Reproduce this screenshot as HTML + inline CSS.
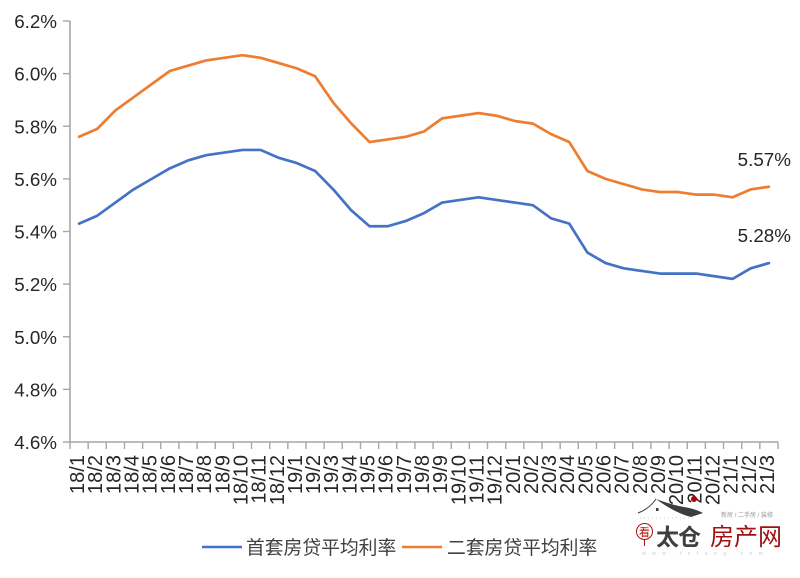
<!DOCTYPE html>
<html lang="zh">
<head>
<meta charset="utf-8">
<title>房贷平均利率</title>
<style>
html,body{margin:0;padding:0;background:#fff;}
body{width:800px;height:578px;overflow:hidden;}
svg{display:block;}
text{font-family:"Liberation Sans","Noto Sans CJK SC",sans-serif;}
</style>
</head>
<body>
<svg id="chart" xmlns="http://www.w3.org/2000/svg" width="800" height="578" viewBox="0 0 800 578">
  <g id="y-axis"></g>
  <g id="x-axis"></g>
  <g id="series"></g>
  <g id="end-labels"></g>
  <g id="legend">
    <g>
      <line x1="202" y1="547" x2="242" y2="547" stroke="#4472c4" stroke-width="2.6"/>
      <text x="246" y="554" font-size="18.8" fill="#404040">首套房贷平均利率</text>
    </g>
    <g>
      <line x1="402" y1="547" x2="442" y2="547" stroke="#ed7d31" stroke-width="2.6"/>
      <text x="447" y="554" font-size="18.8" fill="#404040">二套房贷平均利率</text>
    </g>
  </g>
  <g id="watermark">
    <path d="M638 513 Q649 509 656 499" fill="none" stroke="#3d3d3d" stroke-width="1"/>
    <path d="M656 499 Q672 505 684 507 Q696 509 703 513 Q697 515 691 517 Q675 513 656 499Z" fill="#3d3d3d"/>
    <circle cx="694" cy="499" r="3" fill="#b00000"/>
    <rect x="656" y="508" width="2.500" height="3" fill="#3d3d3d"/>
    <line x1="640" y1="518" x2="694" y2="518" stroke="#ccc" stroke-width="1" stroke-dasharray="1 3"/>
    <text x="721" y="517" font-size="6" fill="#999" textLength="52">新房 / 二手房 / 装修</text>
    <circle cx="644.500" cy="531.500" r="8" fill="none" stroke="#a81010" stroke-width="1"/>
    <text x="644.500" y="536" font-size="11" fill="#a81010" text-anchor="middle">看</text>
    <line x1="644.500" y1="539" x2="644.500" y2="546" stroke="#a81010" stroke-width="1"/>
    <text x="656" y="545" font-size="23" font-weight="700" fill="#3f3f3f" textLength="45">太仓</text>
    <text x="710" y="545" font-size="24" fill="#a01010" textLength="72">房产网</text>
    <text x="642" y="555" font-size="5" fill="#ccc" textLength="121">www.tcfang.com</text>
  </g>
</svg>
<script>
var categories = ["18/1","18/2","18/3","18/4","18/5","18/6","18/7","18/8","18/9","18/10","18/11","18/12","19/1","19/2","19/3","19/4","19/5","19/6","19/7","19/8","19/9","19/10","19/11","19/12","20/1","20/2","20/3","20/4","20/5","20/6","20/7","20/8","20/9","20/10","20/11","20/12","21/1","21/2","21/3"];
var firstHomeRates = [5.43,5.46,5.51,5.56,5.60,5.64,5.67,5.69,5.70,5.71,5.71,5.68,5.66,5.63,5.56,5.48,5.42,5.42,5.44,5.47,5.51,5.52,5.53,5.52,5.51,5.50,5.45,5.43,5.32,5.28,5.26,5.25,5.24,5.24,5.24,5.23,5.22,5.26,5.28];
var secondHomeRates = [5.76,5.79,5.86,5.91,5.96,6.01,6.03,6.05,6.06,6.07,6.06,6.04,6.02,5.99,5.89,5.81,5.74,5.75,5.76,5.78,5.83,5.84,5.85,5.84,5.82,5.81,5.77,5.74,5.63,5.60,5.58,5.56,5.55,5.55,5.54,5.54,5.53,5.56,5.57];
var yTicks = [4.6,4.8,5.0,5.2,5.4,5.6,5.8,6.0,6.2];

var NS = 'http://www.w3.org/2000/svg';
var plotLeft = 70, plotRight = 778, plotTop = 21, plotBottom = 442;
var yMin = yTicks[0], yMax = yTicks[yTicks.length - 1];
var axisColor = '#a6a6a6';

function xBand(i) { return plotLeft + (plotRight - plotLeft) * i / categories.length; }
function xPos(i) { return xBand(i + 0.5); }
function yPos(v) { return plotBottom - (v - yMin) / (yMax - yMin) * (plotBottom - plotTop); }

function make(tag, attrs, parent) {
  var el = document.createElementNS(NS, tag);
  for (var k in attrs) { el.setAttribute(k, attrs[k]); }
  parent.appendChild(el);
  return el;
}

var yAxis = document.getElementById('y-axis');
var xAxis = document.getElementById('x-axis');
var seriesGroup = document.getElementById('series');
var endLabels = document.getElementById('end-labels');

var yLine = make('line', {x1: plotLeft, y1: plotTop, x2: plotLeft, y2: plotBottom, stroke: axisColor, 'stroke-width': 1.6}, yAxis);



yTicks.forEach(function (t) {
  var y = yPos(t);
  var tick = make('line', {x1: plotLeft - 7, y1: y, x2: plotLeft, y2: y, stroke: axisColor, 'stroke-width': 1.4}, yAxis);
  
  
  var label = make('text', {x: 57, y: y + 7, 'font-size': 18.8, fill: '#262626', 'text-anchor': 'end'}, yAxis);
  
  
  label.textContent = t.toFixed(1) + '%';
});

var xLine = make('line', {x1: plotLeft, y1: plotBottom, x2: plotRight, y2: plotBottom, stroke: axisColor, 'stroke-width': 1.6}, xAxis);



for (var b = 0; b <= categories.length; b++) {
  var bx = xBand(b);
  var bt = make('line', {x1: bx, y1: plotBottom, x2: bx, y2: plotBottom + 7, stroke: axisColor, 'stroke-width': 1.4}, xAxis);
  
  
}

categories.forEach(function (c, i) {
  var x = xPos(i) + 5;
  var y = 455;
  var label = make('text', {x: x, y: y, 'font-size': 20, fill: '#262626', 'text-anchor': 'end', transform: 'rotate(-90 ' + x + ' ' + y + ')'}, xAxis);
  
  
  label.textContent = c;
});

function drawSeries(values, color) {
  var d = values.map(function (v, i) {
    return (i ? 'L' : 'M') + xPos(i).toFixed(2) + ' ' + yPos(v).toFixed(2);
  }).join(' ');
  return make('path', {d: d, fill: 'none', stroke: color, 'stroke-width': 2.7, 'stroke-linejoin': 'round', 'stroke-linecap': 'round'}, seriesGroup);
}

var firstLine = drawSeries(firstHomeRates, '#4472c4');



var secondLine = drawSeries(secondHomeRates, '#ed7d31');



function drawEndLabel(values) {
  var last = values.length - 1;
  var t = make('text', {x: xPos(last) + 22, y: yPos(values[last]) - 21, 'font-size': 18.8, fill: '#262626', 'text-anchor': 'end'}, endLabels);
  t.textContent = values[last].toFixed(2) + '%';
  return t;
}

var firstEnd = drawEndLabel(firstHomeRates);



var secondEnd = drawEndLabel(secondHomeRates);


</script>
</body>
</html>
